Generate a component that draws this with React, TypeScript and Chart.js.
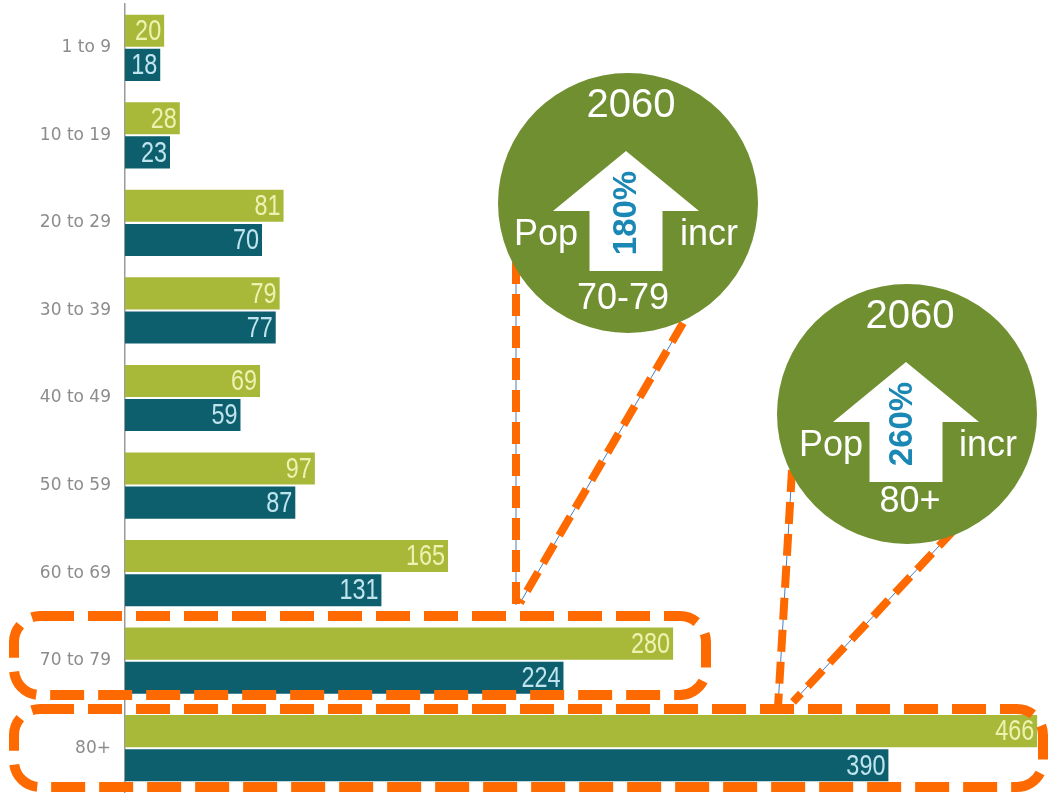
import React, { useEffect, useRef } from "react";
import { Chart, registerables } from "chart.js";

Chart.register(...registerables);

// ---- data ----
const categories = ["1 to 9", "10 to 19", "20 to 29", "30 to 39", "40 to 49", "50 to 59", "60 to 69", "70 to 79", "80+"];
const seriesProjected = [20, 28, 81, 79, 69, 97, 165, 280, 466];
const seriesCurrent = [18, 23, 70, 77, 59, 87, 131, 224, 390];
const seriesNames = ["Projected", "Current"];

const calloutYear = "2060";
const calloutLeftWord = "Pop";
const calloutRightWord = "incr";
const callout1Percent = "180%";
const callout1Group = "70-79";
const callout2Percent = "260%";
const callout2Group = "80+";

// ---- styles ----
const LIME = "#a8b93a";
const TEAL = "#0d5f6e";
const LIME_TEXT = "#eef2b0";
const TEAL_TEXT = "#bfe4ee";
const ORANGE = "#ff6a00";
const CIRCLE = "#6f8f31";
const PCT_BLUE = "#1a87b5";

const boxes = [
  { x: 14, y: 616, w: 692, h: 79, r: 26 },
  { x: 14, y: 709, w: 1029, h: 78, r: 26 },
];

const connectors = [
  [516, 262, 516, 605],
  [683, 323, 520, 603],
  [792, 470, 778, 707],
  [954, 530, 793, 702],
];

const callouts = [
  { cx: 628, cy: 203, pct: callout1Percent, group: callout1Group, popDx: -114, groupDx: -5, groupDy: 106, pctDx: -1, arrowDx: -2 },
  { cx: 907, cy: 414, pct: callout2Percent, group: callout2Group, popDx: -108, groupDx: 3, groupDy: 98, pctDx: -4, arrowDx: -1 },
];

const barLabelPlugin = {
  id: "barLabels",
  afterDatasetsDraw(chart: any) {
    const ctx = chart.ctx;
    ctx.save();
    ctx.font = "30px 'Liberation Sans', Arial, sans-serif";
    ctx.textAlign = "right";
    ctx.textBaseline = "middle";
    chart.data.datasets.forEach((ds: any, i: number) => {
      const meta = chart.getDatasetMeta(i);
      meta.data.forEach((bar: any, j: number) => {
        ctx.save();
        ctx.translate(bar.x - 3, bar.y + 1);
        ctx.scale(0.78, 1);
        ctx.fillStyle = i === 0 ? LIME_TEXT : TEAL_TEXT;
        ctx.fillText(String(ds.data[j]), 0, 0);
        ctx.restore();
      });
    });
    ctx.restore();
  },
};

const calloutPlugin = {
  id: "callouts",
  afterDraw(chart: any) {
    const ctx = chart.ctx;
    ctx.save();
    // dashed boxes
    ctx.strokeStyle = ORANGE;
    ctx.lineWidth = 10;
    ctx.setLineDash([34, 14]);
    boxes.forEach((b) => {
      ctx.beginPath();
      ctx.roundRect(b.x, b.y, b.w, b.h, b.r);
      ctx.stroke();
    });
    // connectors
    connectors.forEach(([x1, y1, x2, y2]) => {
      ctx.setLineDash([]);
      ctx.strokeStyle = "#4a7ebb";
      ctx.lineWidth = 1;
      ctx.beginPath();
      ctx.moveTo(x1, y1);
      ctx.lineTo(x2, y2);
      ctx.stroke();
      ctx.setLineDash([22, 10]);
      ctx.strokeStyle = ORANGE;
      ctx.lineWidth = 8;
      ctx.beginPath();
      ctx.moveTo(x1, y1);
      ctx.lineTo(x2, y2);
      ctx.stroke();
    });
    ctx.setLineDash([]);
    // circles
    callouts.forEach((c) => {
      ctx.fillStyle = CIRCLE;
      ctx.beginPath();
      ctx.arc(c.cx, c.cy, 130, 0, Math.PI * 2);
      ctx.fill();
      // arrow
      const ax = c.cx + c.arrowDx;
      ctx.fillStyle = "#ffffff";
      ctx.beginPath();
      ctx.moveTo(ax, c.cy - 52);
      ctx.lineTo(ax + 73, c.cy + 8);
      ctx.lineTo(ax + 36.5, c.cy + 8);
      ctx.lineTo(ax + 36.5, c.cy + 68);
      ctx.lineTo(ax - 36.5, c.cy + 68);
      ctx.lineTo(ax - 36.5, c.cy + 8);
      ctx.lineTo(ax - 73, c.cy + 8);
      ctx.closePath();
      ctx.fill();
      // texts
      ctx.fillStyle = "#ffffff";
      ctx.textBaseline = "alphabetic";
      ctx.font = "40px 'Liberation Sans', Arial, sans-serif";
      ctx.textAlign = "center";
      ctx.fillText(calloutYear, c.cx + 3, c.cy - 86);
      ctx.font = "36px 'Liberation Sans', Arial, sans-serif";
      ctx.textAlign = "left";
      ctx.fillText(calloutLeftWord, c.cx + c.popDx, c.cy + 42);
      ctx.textAlign = "right";
      ctx.fillText(calloutRightWord, c.cx + 110, c.cy + 42);
      ctx.textAlign = "center";
      ctx.fillText(c.group, c.cx + c.groupDx, c.cy + c.groupDy);
      // rotated percent
      ctx.save();
      ctx.translate(c.cx + c.pctDx, c.cy + 10);
      ctx.rotate(-Math.PI / 2);
      ctx.font = "bold 33px 'Liberation Sans', Arial, sans-serif";
      ctx.fillStyle = PCT_BLUE;
      ctx.textAlign = "center";
      ctx.textBaseline = "middle";
      ctx.fillText(c.pct, 0, 0);
      ctx.restore();
    });
    ctx.restore();
  },
};

export default function App() {
  const canvasRef = useRef<HTMLCanvasElement | null>(null);

  useEffect(() => {
    if (!canvasRef.current) return;
    const chart = new Chart(canvasRef.current, {
      type: "bar",
      data: {
        labels: categories,
        datasets: [
          { label: seriesNames[0], data: seriesProjected, backgroundColor: LIME, borderWidth: 0 },
          { label: seriesNames[1], data: seriesCurrent, backgroundColor: TEAL, borderWidth: 0 },
        ],
      },
      options: {
        indexAxis: "y",
        animation: false,
        responsive: true,
        maintainAspectRatio: false,
        categoryPercentage: 0.78,
        barPercentage: 0.94,
        layout: { padding: { top: 4, bottom: 1, left: 0, right: 4 } },
        plugins: { legend: { display: false }, tooltip: { enabled: false } },
        scales: {
          x: { display: false, min: 0, max: 470 },
          y: {
            grid: { display: false, drawTicks: false },
            border: { display: true, color: "#9a9a9a", width: 1.5 },
            ticks: {
              color: "#8c8c8c",
              padding: 14,
              font: { family: "'DejaVu Sans', sans-serif", size: 17 },
            },
            afterFit(scale: any) {
              scale.width = 125;
              scale.paddingTop = 0;
              scale.paddingBottom = 0;
            },
          },
        },
      } as any,
      plugins: [barLabelPlugin, calloutPlugin],
    });
    return () => chart.destroy();
  }, []);

  return (
    <div style={{ position: "fixed", left: 0, top: 0, width: 1049, height: 793, background: "#ffffff" }}>
      <canvas ref={canvasRef} />
    </div>
  );
}
